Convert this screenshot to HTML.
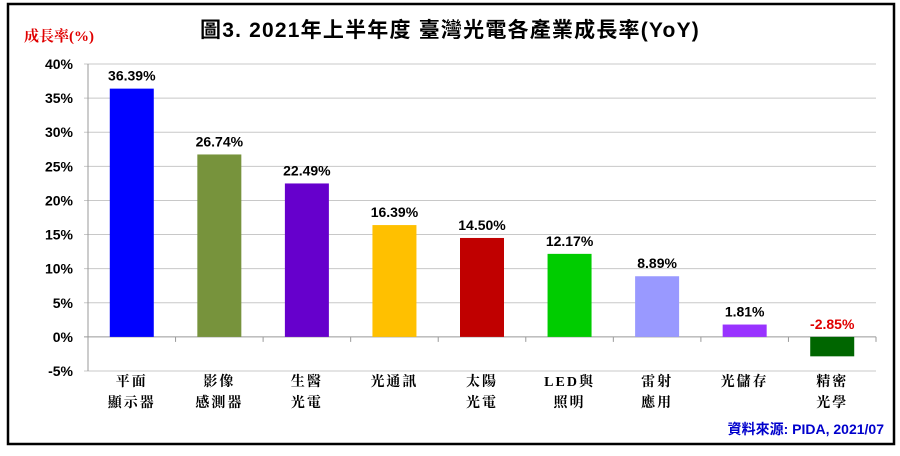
<!DOCTYPE html>
<html><head><meta charset="utf-8">
<style>
body{margin:0;background:#fff;width:900px;height:451px;overflow:hidden}
svg text{font-family:"Liberation Sans","Noto Sans CJK TC",sans-serif}
.cj{font-family:"Liberation Serif","Noto Serif CJK SC",serif;font-weight:bold}
</style></head>
<body>
<svg id="chart" width="900" height="451" xmlns="http://www.w3.org/2000/svg">
<rect x="8" y="4" width="886" height="440" fill="#fff" stroke="#000" stroke-width="2.5"/>
<text x="450" y="37" text-anchor="middle" font-size="21" font-weight="bold" letter-spacing="1.2" fill="#000">圖3. 2021年上半年度 臺灣光電各產業成長率(YoY)</text>
<text class="cj" x="24" y="41" font-size="15" fill="#e00000">成長率(%)</text>
<text x="884" y="434" text-anchor="end" font-size="14" font-weight="bold" fill="#0000cc">資料來源: PIDA, 2021/07</text>
<g id="grid"></g><g id="bars"></g><g id="labels"></g>
</svg>
<script>
const categories=[["平面","顯示器"],["影像","感測器"],["生醫","光電"],["光通訊"],["太陽","光電"],["LED與","照明"],["雷射","應用"],["光儲存"],["精密","光學"]];
const values=[36.39,26.74,22.49,16.39,14.50,12.17,8.89,1.81,-2.85];
const valueLabels=["36.39%","26.74%","22.49%","16.39%","14.50%","12.17%","8.89%","1.81%","-2.85%"];
const colors=["#0000ff","#77933c","#6600cc","#ffc000","#c00000","#00cc00","#9999ff","#9933ff","#006600"];
const yTicks=[-5,0,5,10,15,20,25,30,35,40];
const NS="http://www.w3.org/2000/svg";
const L=88,R=876,T=64,B=371,yMin=-5,yMax=40;
const y=v=>B-(v-yMin)/(yMax-yMin)*(B-T);
const slot=(R-L)/categories.length;
const xc=i=>L+slot*(i+0.5);
function mk(tag,attrs,parent){const e=document.createElementNS(NS,tag);for(const k in attrs)e.setAttribute(k,attrs[k]);parent.appendChild(e);return e;}
const grid=document.getElementById('grid'),bars=document.getElementById('bars'),labels=document.getElementById('labels');
yTicks.forEach(t=>{
  const g=mk('line',{x1:L-4,x2:R,y1:y(t),y2:y(t),stroke:t===0?'#999':'#c8c8c8','stroke-width':1},grid);
  
  
  const tx=mk('text',{x:L-15,y:y(t)+5,'text-anchor':'end','font-size':14,'font-weight':'bold'},grid);
  tx.textContent=t+'%';
  
  
});
const ax=mk('line',{x1:L,x2:L,y1:T,y2:B,stroke:'#999'},grid);


for(let i=0;i<=categories.length;i++){
  const tk=mk('line',{x1:L+slot*i,x2:L+slot*i,y1:y(0),y2:y(0)+5,stroke:'#999'},grid);
  
  
}
const bw=44;
values.forEach((v,i)=>{
  const y0=y(0),yv=y(v);
  const r=mk('rect',{x:xc(i)-bw/2,y:Math.min(y0,yv),width:bw,height:Math.abs(y0-yv),fill:colors[i]},bars);
  
  
  const lt=mk('text',{x:xc(i),y:yv-8,'text-anchor':'middle','font-size':14,'font-weight':'bold',fill:v<0?'#e00000':'#000'},labels);
  if(v<0)lt.setAttribute('y',y(0)-8);
  lt.textContent=valueLabels[i];
  
  
  categories[i].forEach((s,j)=>{
    const c=mk('text',{x:xc(i),y:386+j*21,'text-anchor':'middle','font-size':14,class:'cj','letter-spacing':2},labels);
    c.textContent=s;
    
    
  });
});
</script>
</body></html>
